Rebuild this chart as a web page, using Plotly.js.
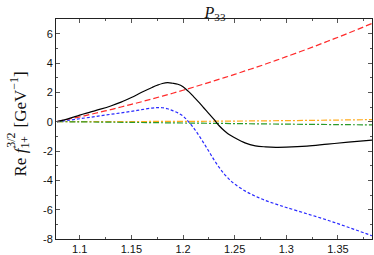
<!DOCTYPE html>
<html>
<head>
<meta charset="utf-8">
<script src="https://cdn.plot.ly/plotly-3.0.1.min.js"></script>
<style>html,body{margin:0;padding:0;background:#fff;}#chart{width:374px;height:255px;}</style>
</head>
<body>
<div id="chart"></div>
<script>
// Shared energy grid (GeV)
const W = [1.078, 1.09, 1.10, 1.11, 1.12, 1.13, 1.14, 1.15, 1.16, 1.17, 1.175, 1.18, 1.185, 1.19, 1.195, 1.20, 1.205, 1.21, 1.215, 1.22, 1.225, 1.23, 1.235, 1.24, 1.245, 1.25, 1.26, 1.27, 1.28, 1.29, 1.30, 1.32, 1.34, 1.36, 1.383];
// Total (black solid)
const total = [0, 0.22, 0.45, 0.65, 0.85, 1.07, 1.33, 1.65, 2.0, 2.33, 2.48, 2.6, 2.66, 2.62, 2.55, 2.38, 2.08, 1.72, 1.35, 0.95, 0.55, 0.15, -0.28, -0.62, -0.9, -1.1, -1.45, -1.65, -1.72, -1.75, -1.74, -1.67, -1.53, -1.4, -1.26];
// Blue short dashed
const blue = [0, 0.1, 0.2, 0.3, 0.4, 0.5, 0.6, 0.7, 0.82, 0.93, 0.96, 0.95, 0.88, 0.75, 0.6, 0.38, 0.02, -0.4, -0.9, -1.45, -2.02, -2.6, -3.12, -3.57, -3.95, -4.25, -4.72, -5.08, -5.38, -5.62, -5.85, -6.28, -6.72, -7.2, -7.78];
// Red long dashed
const Wred = [1.078, 1.09, 1.10, 1.11, 1.12, 1.13, 1.14, 1.15, 1.16, 1.17, 1.18, 1.19, 1.20, 1.21, 1.22, 1.23, 1.24, 1.25, 1.26, 1.27, 1.28, 1.29, 1.30, 1.32, 1.34, 1.36, 1.383];
const red = [0, 0.18, 0.33, 0.49, 0.66, 0.82, 1.0, 1.18, 1.36, 1.55, 1.74, 1.94, 2.14, 2.35, 2.56, 2.78, 3.0, 3.22, 3.46, 3.69, 3.93, 4.18, 4.43, 4.94, 5.48, 6.03, 6.7];
// Small contributions (dash-dot)
const Wsmall = [1.078, 1.15, 1.20, 1.25, 1.30, 1.35, 1.383];
const orange = [0, 0.01, 0.02, 0.04, 0.07, 0.11, 0.14];
const green = [0, -0.05, -0.09, -0.13, -0.17, -0.2, -0.22];

const yTicks = [-8, -6, -4, -2, 0, 2, 4, 6];
const yTickText = ['-8', '-6', '-4', '-2', '0', '2', '4', '6'];
const xTicks = [1.1, 1.15, 1.2, 1.25, 1.3, 1.35];
const xTickText = ['1.1', '1.15', '1.2', '1.25', '1.3', '1.35'];

const traces = [
  {x: Wred, y: red, mode: 'lines', line: {color: '#ff2a2a', width: 1.2, dash: '6px,3px', shape: 'spline'}},
  {x: Wsmall, y: orange, mode: 'lines', line: {color: '#ffab1a', width: 1.2, dash: '6px,2px,2px,2px', shape: 'spline'}},
  {x: Wsmall, y: green, mode: 'lines', line: {color: '#2a9a2a', width: 1.2, dash: '6px,2px,2px,2px', shape: 'spline'}},
  {x: W, y: blue, mode: 'lines', line: {color: '#2a2aff', width: 1.2, dash: '3px,2px', shape: 'spline'}},
  {x: W, y: total, mode: 'lines', line: {color: '#000000', width: 1.2, shape: 'spline'}}
];

const axisCommon = {
  showline: true, linecolor: '#222', linewidth: 1, mirror: 'ticks',
  ticks: 'inside', ticklen: 4, tickcolor: '#555', tickwidth: 1,
  showgrid: false, zeroline: false,
  tickfont: {family: 'Liberation Sans, Arial, sans-serif', size: 11, color: '#111'}
};

const serif = 'Liberation Serif, serif';
const layout = {
  width: 374, height: 255,
  margin: {l: 56, r: 2, t: 19, b: 16},
  paper_bgcolor: '#fff', plot_bgcolor: '#fff',
  showlegend: false,
  title: {text: '<i>P</i><sub>33</sub>', font: {family: serif, size: 16, color: '#111'}, x: 0.575, xanchor: 'center', y: 0.975, yanchor: 'top'},
  xaxis: Object.assign({}, axisCommon, {range: [1.077, 1.383], tickvals: xTicks, ticktext: xTickText,
    minor: {ticks: 'inside', ticklen: 2, tickcolor: '#555', dtick: 0.025, tick0: 1.1}}),
  yaxis: Object.assign({}, axisCommon, {range: [-8, 7], tickvals: yTicks, ticktext: yTickText,
    minor: {ticks: 'inside', ticklen: 2, tickcolor: '#555', dtick: 1, tick0: 0}}),
  annotations: [{
    text: 'Re <i>f</i><sub>1+</sub>&nbsp; [GeV<sup>−1</sup>]',
    xref: 'paper', yref: 'paper', x: -0.114, y: 0.525, xanchor: 'center', yanchor: 'middle',
    textangle: -90, showarrow: false,
    font: {family: serif, size: 17, color: '#111'}
  }, {
    text: '3/2',
    xref: 'paper', yref: 'paper', x: -0.143, y: 0.45, xanchor: 'center', yanchor: 'middle',
    textangle: -90, showarrow: false,
    font: {family: serif, size: 12, color: '#111'}
  }]
};

Plotly.newPlot('chart', traces, layout, {staticPlot: true, displayModeBar: false});
</script>
</body>
</html>
